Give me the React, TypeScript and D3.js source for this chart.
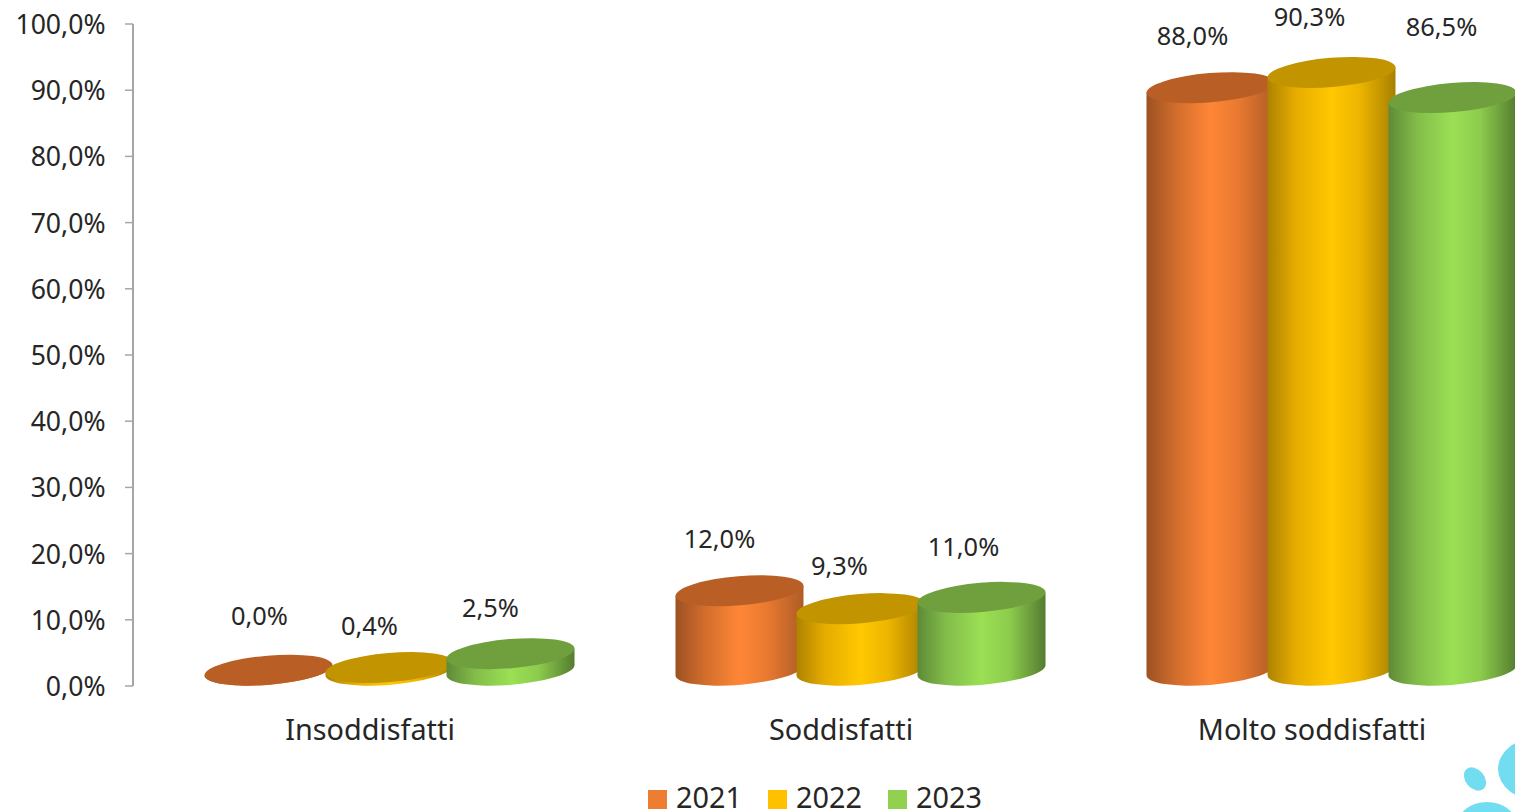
import React from "react";
import * as d3 from "d3";

const categories = ["Insoddisfatti", "Soddisfatti", "Molto soddisfatti"];
const years = ["2021", "2022", "2023"];
const values2021 = [0.0, 12.0, 88.0];
const values2022 = [0.4, 9.3, 90.3];
const values2023 = [2.5, 11.0, 86.5];
const yTicks = [0, 10, 20, 30, 40, 50, 60, 70, 80, 90, 100];

// Hand-placed data label offsets, relative to the centre of each cylinder's top face
const labelOffsets2021 = [[-9, -54], [-20, -52], [-18, -52]];
const labelOffsets2022 = [[-20, -42], [-21, -43], [-22, -55]];
const labelOffsets2023 = [[-20, -46], [-18, -50], [-11, -71]];

const seriesValues = [values2021, values2022, values2023];
const seriesOffsets = [labelOffsets2021, labelOffsets2022, labelOffsets2023];

const legendColors = ["#ED7D31", "#FFC000", "#92D050"];
const topColors = ["#B95F26", "#C29400", "#70A03E"];
const sideStops = [
  ["#9C5122", "#D06C2C", "#FF8636", "#E87930", "#AE5C27"],
  ["#AD8200", "#E6AC00", "#FFC800", "#EDB500", "#A88000"],
  ["#5E8A36", "#82BC4A", "#9BE054", "#8CCB4C", "#557C30"],
];

const W = 1515;
const H = 812;
const FONT = "'Noto Sans', 'Open Sans', sans-serif";
const INK = "#262626";

const y = d3.scaleLinear().domain([0, 100]).range([686, 24]);
const xCategory = d3.scaleBand().domain(categories).range([154, 1567]);
const xYear = d3.scaleBand().domain(years).range([-181.5, 181.5]);

// Perspective of the cylinders: tilted elliptical faces, lifted off the value axis
const RX = 64.2;
const RY = 14.6;
const TILT = -4.8;
const LIFT = 15.8;
const EDGE_X = 64;
const EDGE_Y = 5;

function cylinderSide(cx: number, topY: number, baseY: number) {
  const p = d3.path();
  p.moveTo(cx - EDGE_X, topY + EDGE_Y);
  p.lineTo(cx - EDGE_X, baseY + EDGE_Y);
  const arc = `A${RX},${RY} ${TILT} 0 0 ${cx + EDGE_X},${baseY - EDGE_Y}`;
  return `${p.toString()}${arc}L${cx + EDGE_X},${topY - EDGE_Y}Z`;
}

function Cylinder({ cx, value, index }: { cx: number; value: number; index: number }) {
  const baseY = y(0) - LIFT;
  const topY = y(value) - LIFT;
  return (
    <g>
      <path d={cylinderSide(cx, topY, baseY)} fill={`url(#side-${index})`} />
      <ellipse
        cx={cx}
        cy={topY}
        rx={RX}
        ry={RY}
        fill={topColors[index]}
        transform={`rotate(${TILT} ${cx} ${topY})`}
      />
    </g>
  );
}

const percent = (v: number) => `${v.toFixed(1).replace(".", ",")}%`;

export default function App() {
  return (
    <svg
      width={W}
      height={H}
      viewBox={`0 0 ${W} ${H}`}
      style={{ position: "absolute", left: 0, top: 0, background: "#fff", overflow: "hidden" }}
    >
      <defs>
        {sideStops.map((stops, i) => (
          <linearGradient key={i} id={`side-${i}`} x1="0" x2="1" y1="0" y2="0">
            {stops.map((c, j) => (
              <stop key={j} offset={[0, 0.22, 0.5, 0.72, 1][j]} stopColor={c} />
            ))}
          </linearGradient>
        ))}
      </defs>

      {/* Corner decoration */}
      <g fill="#72DCF0">
        <ellipse cx={1475} cy={779} rx={9.5} ry={13} transform="rotate(-40 1475 779)" />
        <ellipse cx={1540} cy={769} rx={42} ry={32} />
        <ellipse cx={1487} cy={826} rx={30} ry={24} />
      </g>

      {/* Value axis */}
      <g stroke="#A6A6A6" fill="none">
        <line x1={133} x2={133} y1={y(100)} y2={y(0)} strokeWidth={2} />
        {yTicks.map((t) => (
          <line key={t} x1={125} x2={133} y1={y(t)} y2={y(t)} strokeWidth={1.5} />
        ))}
      </g>
      <g fontFamily={FONT} fontSize={26.6} fill={INK} textAnchor="end">
        {yTicks.map((t) => (
          <text key={t} x={105.5} y={y(t) + 10}>
            {percent(t)}
          </text>
        ))}
      </g>

      {/* Cylinders, painted left to right so each overlaps the previous one */}
      {categories.map((cat, c) =>
        years.map((yr, s) => (
          <Cylinder
            key={`${cat}-${yr}`}
            cx={xCategory(cat)! + xCategory.bandwidth() / 2 + xYear(yr)! + xYear.bandwidth() / 2}
            value={seriesValues[s][c]}
            index={s}
          />
        ))
      )}

      {/* Data labels */}
      <g fontFamily={FONT} fontSize={25.4} fill={INK} textAnchor="middle">
        {categories.map((cat, c) =>
          years.map((yr, s) => {
            const cx = xCategory(cat)! + xCategory.bandwidth() / 2 + xYear(yr)! + xYear.bandwidth() / 2;
            const [dx, dy] = seriesOffsets[s][c];
            return (
              <text key={`${cat}-${yr}`} x={cx + dx} y={y(seriesValues[s][c]) - LIFT + dy + 9}>
                {percent(seriesValues[s][c])}
              </text>
            );
          })
        )}
      </g>

      {/* Category labels */}
      <g fontFamily={FONT} fontSize={28.8} fill={INK} textAnchor="middle">
        {categories.map((cat) => (
          <text key={cat} x={xCategory(cat)! + xCategory.bandwidth() / 2 - 19.5} y={739.5}>
            {cat}
          </text>
        ))}
      </g>

      {/* Legend */}
      <g fontFamily={FONT} fontSize={28.8} fill={INK}>
        {years.map((yr, i) => (
          <g key={yr} transform={`translate(${648 + i * 120},0)`}>
            <rect x={0} y={790} width={19} height={19} fill={legendColors[i]} />
            <text x={28} y={808}>
              {yr}
            </text>
          </g>
        ))}
      </g>
    </svg>
  );
}
